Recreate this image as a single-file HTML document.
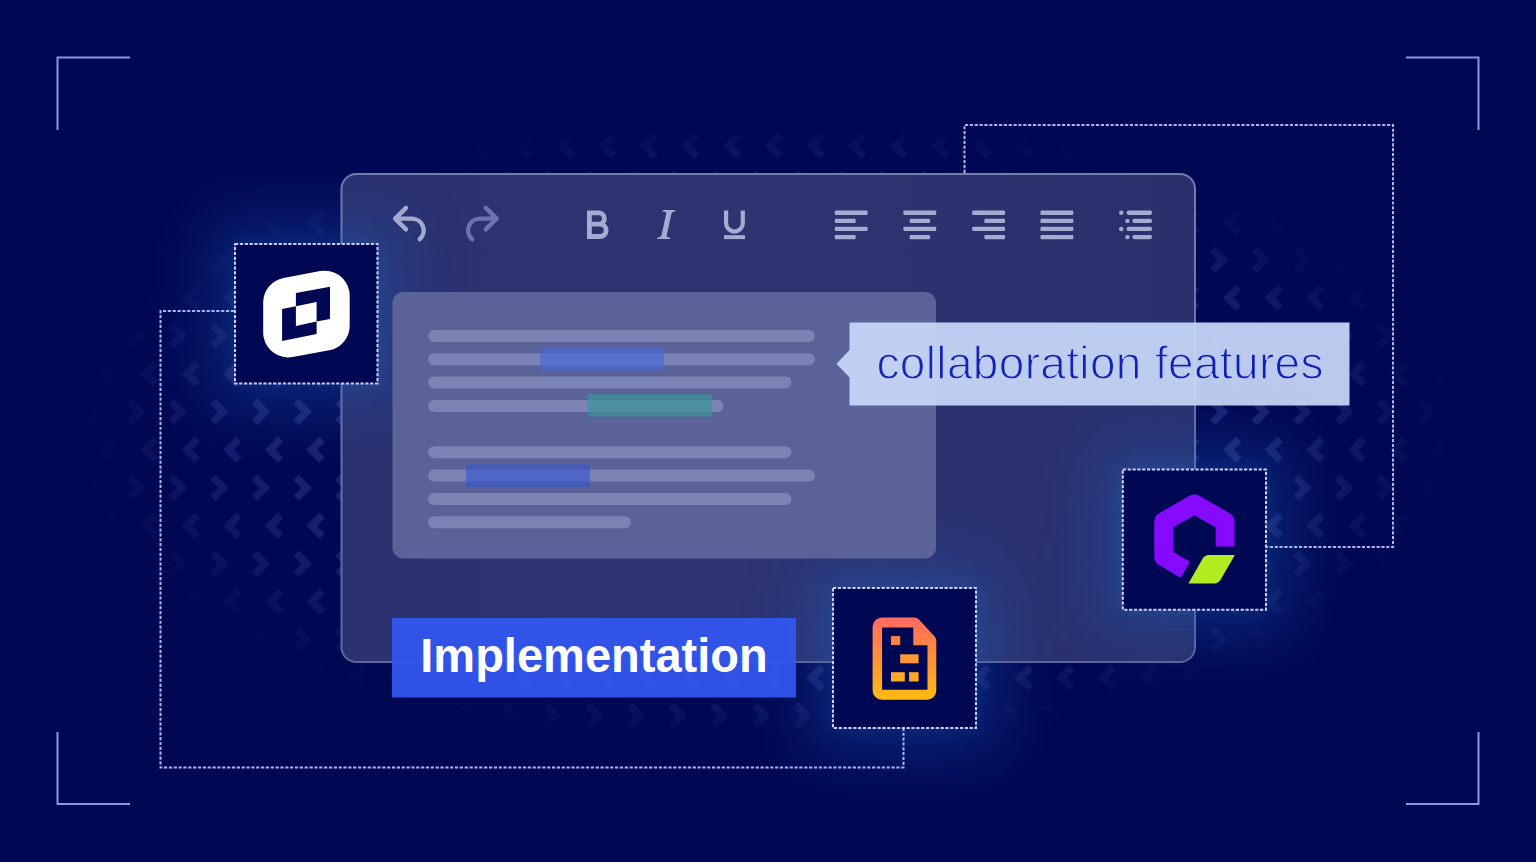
<!DOCTYPE html>
<html>
<head>
<meta charset="utf-8">
<title>Implementation - collaboration features</title>
<style>
  html, body { margin: 0; padding: 0; background: #010853; }
  body { width: 1536px; height: 862px; overflow: hidden; font-family: "Liberation Sans", sans-serif; }
  svg { display: block; }
  text { font-family: "Liberation Sans", sans-serif; }
</style>
</head>
<body>
<svg width="1536" height="862" viewBox="0 0 1536 862">
  <defs>
    <!-- chevron pattern -->
    <pattern id="chev" x="125.5" y="246.3" width="41.66" height="76" patternUnits="userSpaceOnUse">
      <!-- ">" row -->
      <path d="M4 3 L14.5 13.5 L4 24" fill="none" stroke="#8ea2ff" stroke-opacity="0.165" stroke-width="7.5" stroke-linejoin="miter"/>
      <!-- "<" row -->
      <path d="M30 41 L19.5 51.5 L30 62" fill="none" stroke="#8ea2ff" stroke-opacity="0.165" stroke-width="7.5" stroke-linejoin="miter"/>
    </pattern>
    <radialGradient id="chevFade" cx="768" cy="432" r="1" gradientUnits="userSpaceOnUse" gradientTransform="translate(768 432) scale(690 318) translate(-768 -432)">
      <stop offset="0" stop-color="#fff" stop-opacity="1"/>
      <stop offset="0.7" stop-color="#fff" stop-opacity="1"/>
      <stop offset="0.85" stop-color="#fff" stop-opacity="0.6"/>
      <stop offset="1" stop-color="#fff" stop-opacity="0"/>
    </radialGradient>
    <mask id="chevMask" maskUnits="userSpaceOnUse" x="0" y="0" width="1536" height="862">
      <rect width="1536" height="862" fill="url(#chevFade)"/>
    </mask>

    <filter id="blurA" x="-60%" y="-60%" width="220%" height="220%"><feGaussianBlur stdDeviation="9"/></filter>
    <filter id="blurB" x="-100%" y="-100%" width="300%" height="300%"><feGaussianBlur stdDeviation="34"/></filter>
    <g id="glowset">
      <g filter="url(#blurB)" fill="#1a5ab8" opacity="0.41">
        <rect x="209" y="218" width="194.5" height="191.5"/>
        <rect x="1097" y="443.5" width="195.5" height="192"/>
        <rect x="807" y="562" width="195" height="192"/>
      </g>
      <g filter="url(#blurA)" fill="#2b80d8" opacity="0.12">
        <rect x="231" y="240" width="150.5" height="147.5"/>
        <rect x="1119" y="465.5" width="151.5" height="148"/>
        <rect x="829" y="584" width="151" height="148"/>
      </g>
    </g>
    <clipPath id="panelClip"><rect x="341.5" y="174" width="853.5" height="488" rx="15" ry="15"/></clipPath>

    <linearGradient id="panelG" x1="0" y1="0" x2="1" y2="0">
      <stop offset="0" stop-color="#2c316f"/>
      <stop offset="0.5" stop-color="#2e3371"/>
      <stop offset="1" stop-color="#2b306d"/>
    </linearGradient>

    <linearGradient id="panelS" x1="0" y1="174" x2="0" y2="662" gradientUnits="userSpaceOnUse">
      <stop offset="0" stop-color="#737cad"/>
      <stop offset="1" stop-color="#5c669c"/>
    </linearGradient>
    <linearGradient id="docG" x1="0" y1="0" x2="0" y2="1">
      <stop offset="0" stop-color="#ff6a62"/>
      <stop offset="0.5" stop-color="#ff9138"/>
      <stop offset="1" stop-color="#ffbb12"/>
    </linearGradient>
  </defs>

  <!-- background -->
  <rect width="1536" height="862" fill="#010853"/>

  <!-- glows behind -->
  <g opacity="0.85"><use href="#glowset"/></g>

  <!-- chevrons -->
  <g mask="url(#chevMask)">
    <rect x="60" y="100" width="1420" height="680" fill="url(#chev)"/>
  </g>

  <!-- corner brackets -->
  <g fill="none" stroke="#8e93e2" stroke-width="2">
    <path d="M130 57.5 H57.5 V130"/>
    <path d="M1406 57.5 H1478.5 V130"/>
    <path d="M57.5 732 V804 H130"/>
    <path d="M1478.5 732 V804 H1406"/>
  </g>

  <!-- thin dotted connectors -->
  <g fill="none" stroke="#a9b4ea" stroke-width="2" stroke-dasharray="3.2 1.65">
    <path d="M234 311 H160.5 V767.5 H903.5 V729"/>
    <path d="M964.5 173 V125 H1393 V547 H1267"/>
  </g>

  <!-- editor panel -->
  <rect x="341.5" y="174" width="853.5" height="488" rx="15" ry="15" fill="url(#panelG)" stroke="url(#panelS)" stroke-width="2"/>

  <!-- glows over panel -->
  <g clip-path="url(#panelClip)" opacity="0.95"><use href="#glowset"/></g>

  <!-- inner text box -->
  <rect x="392.5" y="292" width="543.5" height="266.5" rx="11" fill="#5a6297"/>
  <g fill="#7a83b4">
    <rect x="428" y="330" width="387" height="12" rx="6"/>
    <rect x="428" y="353.3" width="387" height="12" rx="6"/>
    <rect x="428" y="376.6" width="363.5" height="12" rx="6"/>
    <rect x="428" y="399.9" width="295.5" height="12" rx="6"/>
    <rect x="428" y="446.3" width="363.5" height="12" rx="6"/>
    <rect x="428" y="469.6" width="387" height="12" rx="6"/>
    <rect x="428" y="492.9" width="363.5" height="12" rx="6"/>
    <rect x="428" y="516.2" width="203" height="12" rx="6"/>
  </g>
  <rect x="540" y="348" width="124" height="22.5" fill="#496ad7" fill-opacity="0.68"/>
  <rect x="587.5" y="394" width="124.5" height="22.5" fill="#389798" fill-opacity="0.68"/>
  <rect x="466" y="464.3" width="124" height="22.5" fill="#3b59cd" fill-opacity="0.68"/>

  <!-- toolbar -->
  <g id="toolbar">
    <!-- undo -->
    <path d="M406 207.9 L395.2 218.6 L406 229.4 M396.5 218.6 H412 A11.8 11.8 0 0 1 419.7 239.2" fill="none" stroke="#a3a9cf" stroke-width="4.4" stroke-linecap="round" stroke-linejoin="round"/>
    <!-- redo -->
    <path d="M485.8 207.9 L496.6 218.6 L485.8 229.4 M495.3 218.6 H479.8 A11.8 11.8 0 0 0 472.1 239.2" fill="none" stroke="#6d74ad" stroke-width="4.4" stroke-linecap="round" stroke-linejoin="round"/>
    <!-- B -->
    <path d="M589.4 212.9 H598.7 A5.65 5.65 0 0 1 598.7 224.2 H600 A6.15 6.15 0 0 1 600 236.5 H589.4 Z M589.4 224.2 H598.7" fill="none" stroke="#a5abd1" stroke-width="4.8" stroke-linejoin="miter"/>
    <!-- I -->
    <path d="M662.8 210 H675.2 V211.5 Q672.2 211.6 671.5 213.3 L666.7 235.8 Q666.5 237.4 670 237.5 V239 H657.3 V237.5 Q660.6 237.4 661.4 235.8 L666.3 213.3 Q666.6 211.6 662.8 211.5 Z" fill="#a5abd1"/>
    <!-- U -->
    <path d="M726.1 210.4 V223.2 A8.35 8.35 0 0 0 742.8 223.2 V210.4" fill="none" stroke="#a5abd1" stroke-width="4.2"/>
    <rect x="724" y="235.2" width="21" height="3.9" fill="#a5abd1"/>
    <!-- align icons -->
    <g fill="#a5abd1">
      <rect x="834.8" y="210.6" width="32.8" height="4.3" rx="1"/><rect x="834.8" y="218.7" width="20.8" height="4.3" rx="1"/><rect x="834.8" y="226.8" width="32.8" height="4.3" rx="1"/><rect x="834.8" y="234.9" width="20.8" height="4.3" rx="1"/>
      <rect x="903.4" y="210.6" width="32.8" height="4.3" rx="1"/><rect x="909.6" y="218.7" width="20.4" height="4.3" rx="1"/><rect x="903.4" y="226.8" width="32.8" height="4.3" rx="1"/><rect x="909.6" y="234.9" width="20.4" height="4.3" rx="1"/>
      <rect x="972.2" y="210.6" width="32.8" height="4.3" rx="1"/><rect x="984.4" y="218.7" width="20.6" height="4.3" rx="1"/><rect x="972.2" y="226.8" width="32.8" height="4.3" rx="1"/><rect x="984.4" y="234.9" width="20.6" height="4.3" rx="1"/>
      <rect x="1040.5" y="210.6" width="32.8" height="4.3" rx="1"/><rect x="1040.5" y="218.7" width="32.8" height="4.3" rx="1"/><rect x="1040.5" y="226.8" width="32.8" height="4.3" rx="1"/><rect x="1040.5" y="234.9" width="32.8" height="4.3" rx="1"/>
      <circle cx="1121.2" cy="212.8" r="2.2"/><rect x="1126.5" y="210.6" width="25.6" height="4.3" rx="2.1"/>
      <circle cx="1127.4" cy="220.9" r="2.2"/><rect x="1132.3" y="218.7" width="19.8" height="4.3" rx="2.1"/>
      <circle cx="1121.2" cy="229" r="2.2"/><rect x="1126.5" y="226.8" width="25.6" height="4.3" rx="2.1"/>
      <circle cx="1127.4" cy="237.1" r="2.2"/><rect x="1132.3" y="234.9" width="19.8" height="4.3" rx="2.1"/>
    </g>
  </g>

  <!-- speech bubble -->
  <g opacity="0.93">
    <path d="M849.5 322.5 H1349.5 V405.5 H849.5 V377.5 L836.5 363.8 L849.5 350 Z" fill="#c8d8f9"/>
    <text x="876.5" y="378.6" font-size="46" fill="#0f22bb" stroke="#c8d8f9" stroke-width="1.3" textLength="447" lengthAdjust="spacing">collaboration features</text>
  </g>

  <!-- implementation label -->
  <rect x="392" y="618" width="404" height="79.5" fill="#3355ee" opacity="0.95"/>
  <text x="420.3" y="672.2" font-size="47.2" font-weight="bold" fill="#ffffff" textLength="347.4" lengthAdjust="spacingAndGlyphs">Implementation</text>

  <!-- logo boxes -->
  <g fill="#010853" stroke="#c8d0f9" stroke-width="2.05" stroke-dasharray="3.2 1.65">
    <rect x="235" y="244" width="142.5" height="139.5"/>
    <rect x="1122.8" y="469.5" width="143.2" height="140.2"/>
    <rect x="833" y="588" width="143" height="140"/>
  </g>

  <g id="logos">
    <!-- TinyMCE -->
    <path d="M288.2 302.5 L324.7 295.7 L324.7 325.7 L288.2 332.4 Z" fill="#ffffff" stroke="#ffffff" stroke-width="50" stroke-linejoin="round"/>
    <path fill="#010853" d="M295.9 293.1 L330 286.8 L330 319.1 L316.6 321.6 L316.6 302 L295.9 306.2 Z M282.1 308.9 L295.9 306.2 L295.9 326 L316.6 321.6 L316.6 334.1 L282.1 341 Z"/>
    <!-- CKEditor -->
    <path fill="#850aff" d="M1189.40 495.84 A10.00 10.00 0 0 1 1199.40 495.84 L1229.50 513.21 A10.00 10.00 0 0 1 1234.50 521.88 L1234.50 546.50 L1215.65 546.50 L1215.65 528.59 A2.00 2.00 0 0 0 1214.65 526.85 L1195.65 515.88 A2.50 2.50 0 0 0 1193.15 515.88 L1174.15 526.85 A2.00 2.00 0 0 0 1173.15 528.59 L1173.15 550.81 A2.00 2.00 0 0 0 1174.15 552.55 L1189.90 561.64 L1180.67 577.63 L1159.30 565.29 A10.00 10.00 0 0 1 1154.30 556.63 L1154.30 521.88 A10.00 10.00 0 0 1 1159.30 513.21 Z"/>
    <path fill="#b0ec1f" d="M1188.4 583.5 L1202.75 558.6 A7.5 7.5 0 0 1 1209.2 554.9 H1234.9 L1220.55 579.8 A7.5 7.5 0 0 1 1214.1 583.5 Z"/>
    <!-- Doc icon -->
    <path fill="url(#docG)" fill-rule="evenodd" d="M882 617.4 H914.4 Q916.8 617.4 918.5 619.1 L934.6 636.6 Q936.3 638.4 936.3 640.8 V690.4 A9.4 9.4 0 0 1 926.9 699.8 H882 A9.4 9.4 0 0 1 872.6 690.4 V626.8 A9.4 9.4 0 0 1 882 617.4 Z M882.1 627.6 V689.7 H927.5 V645.2 H913.3 V627.6 Z"/>
    <g fill="url(#docG2)">
      <rect x="891" y="636.1" width="9.2" height="8.9" fill="#ff8443"/>
      <rect x="900.2" y="654.3" width="18.4" height="9" fill="#ff9733"/>
      <rect x="891" y="672.2" width="13.8" height="9.3" fill="#ffa727"/>
      <rect x="909.1" y="672.2" width="9.5" height="9.3" fill="#ffa727"/>
    </g>
  </g>
</svg>
</body>
</html>
